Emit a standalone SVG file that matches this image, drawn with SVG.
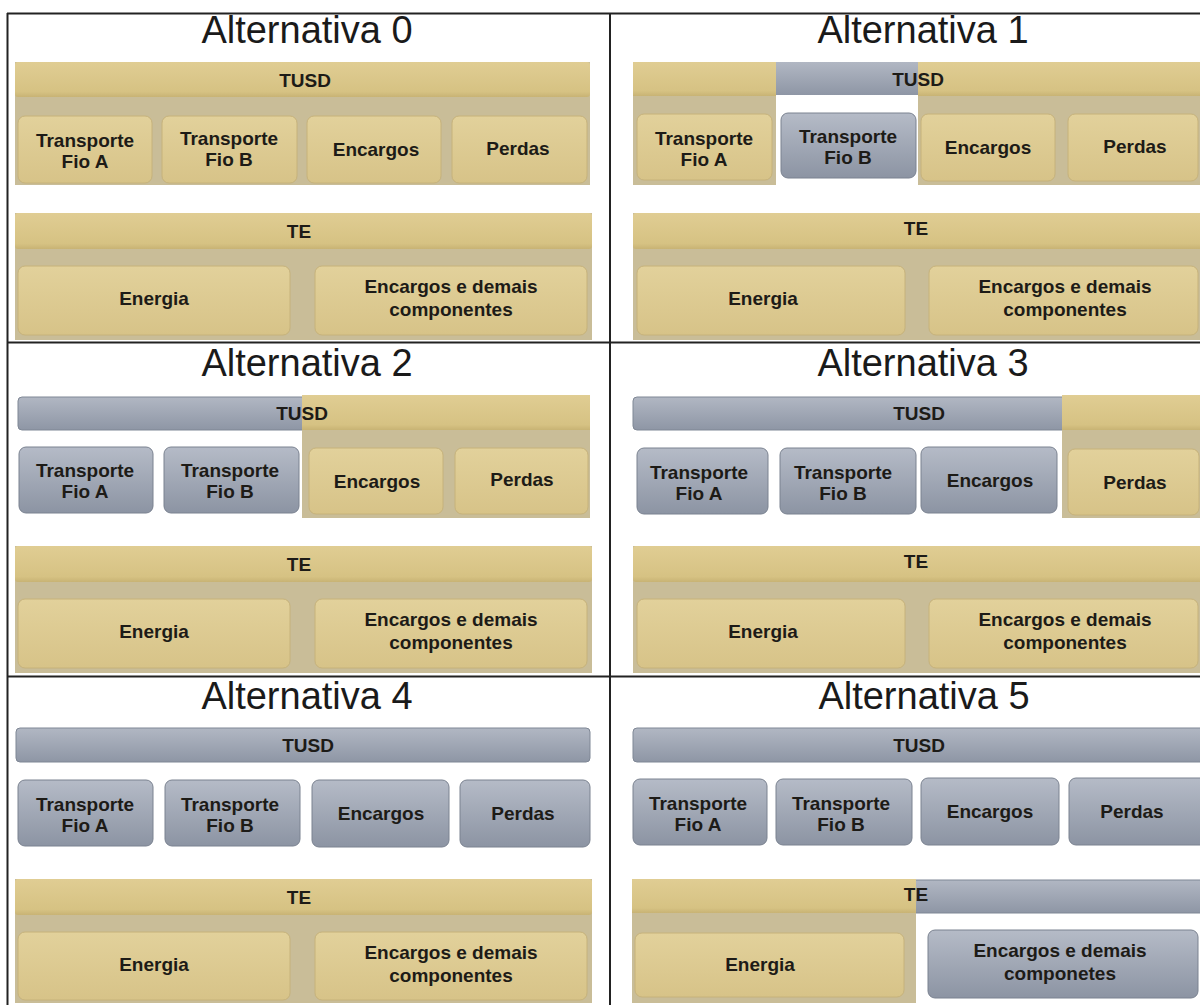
<svg xmlns="http://www.w3.org/2000/svg" width="1200" height="1005" viewBox="0 0 1200 1005">
<defs>
<linearGradient id="gBar" x1="0" y1="0" x2="0" y2="1"><stop offset="0" stop-color="#e0cd93"/><stop offset="0.85" stop-color="#d6c283"/><stop offset="1" stop-color="#c8b374"/></linearGradient>
<linearGradient id="gBox" x1="0" y1="0" x2="0" y2="1"><stop offset="0" stop-color="#e2d19b"/><stop offset="1" stop-color="#d7c388"/></linearGradient>
<linearGradient id="sBar" x1="0" y1="0" x2="0" y2="1"><stop offset="0" stop-color="#b1b7c3"/><stop offset="1" stop-color="#8e96a5"/></linearGradient>
<linearGradient id="sBox" x1="0" y1="0" x2="0" y2="1"><stop offset="0" stop-color="#b5bbc7"/><stop offset="1" stop-color="#8c94a3"/></linearGradient>
</defs>
<style>
.cont{fill:#c9bd98}
.gbar{fill:url(#gBar)}
.gbox{fill:url(#gBox);stroke:#c6b27b;stroke-width:1}
.sbar{fill:url(#sBar);stroke:#7f8795;stroke-width:1}
.sflat{fill:url(#sBar)}
.sbox{fill:url(#sBox);stroke:#7a8290;stroke-width:1}
.t{font-family:"Liberation Sans",Arial,sans-serif;font-weight:bold;font-size:19px;fill:#1d1b17;text-anchor:middle}
.ti{font-family:"Liberation Sans",Arial,sans-serif;font-size:38px;fill:#1a1a1a;text-anchor:middle}
.grid{stroke:#222;stroke-width:2;fill:none}
</style>

<!-- Panel 0 -->
<g id="alt0">
<text class="ti" x="307" y="43">Alternativa 0</text>
<g id="alt0-tusd"><rect class="cont" x="15" y="62" width="575" height="123"/><rect class="gbar" x="15" y="62" width="575" height="35" rx="3"/><text class="t" x="305" y="87">TUSD</text></g>
<g id="alt0-fioA"><rect class="gbox" x="18" y="116" width="134" height="67" rx="7"/><text class="t" x="85" y="147">Transporte</text><text class="t" x="85" y="168">Fio A</text></g>
<g id="alt0-fioB"><rect class="gbox" x="162" y="116" width="135" height="67" rx="7"/><text class="t" x="229" y="145">Transporte</text><text class="t" x="229" y="166">Fio B</text></g>
<g id="alt0-enc"><rect class="gbox" x="307" y="116" width="134" height="67" rx="7"/><text class="t" x="376" y="156">Encargos</text></g>
<g id="alt0-perdas"><rect class="gbox" x="452" y="116" width="135" height="67" rx="7"/><text class="t" x="518" y="155">Perdas</text></g>
<g id="alt0-te"><rect class="cont" x="15" y="213" width="577" height="127"/><rect class="gbar" x="15" y="213" width="577" height="36" rx="3"/><text class="t" x="299" y="238">TE</text></g>
<g id="alt0-energia"><rect class="gbox" x="18" y="266" width="272" height="69" rx="7"/><text class="t" x="154" y="305">Energia</text></g>
<g id="alt0-demais"><rect class="gbox" x="315" y="266" width="272" height="69" rx="7"/><text class="t" x="451" y="293">Encargos e demais</text><text class="t" x="451" y="316">componentes</text></g>
</g>

<!-- Panel 1 -->
<g id="alt1" transform="translate(617,0)">
<text class="ti" x="306" y="43">Alternativa 1</text>
<g id="alt1-tusd">
<rect class="cont" x="16" y="62" width="143" height="123"/><rect class="gbar" x="16" y="62" width="143" height="34"/>
<rect class="sflat" x="159" y="62" width="142" height="33"/>
<rect class="cont" x="301" y="62" width="290" height="123"/><rect class="gbar" x="301" y="62" width="290" height="34"/>
<text class="t" x="301" y="86">TUSD</text></g>
<g id="alt1-fioA"><rect class="gbox" x="20" y="114" width="135" height="66" rx="7"/><text class="t" x="87" y="145">Transporte</text><text class="t" x="87" y="166">Fio A</text></g>
<g id="alt1-fioB"><rect class="sbox" x="164" y="113" width="135" height="65" rx="7"/><text class="t" x="231" y="143">Transporte</text><text class="t" x="231" y="164">Fio B</text></g>
<g id="alt1-enc"><rect class="gbox" x="304" y="114" width="134" height="67" rx="7"/><text class="t" x="371" y="154">Encargos</text></g>
<g id="alt1-perdas"><rect class="gbox" x="451" y="114" width="130" height="67" rx="7"/><text class="t" x="518" y="153">Perdas</text></g>
<g id="alt1-te"><rect class="cont" x="16" y="213" width="580" height="127"/><rect class="gbar" x="16" y="213" width="580" height="36" rx="3"/><text class="t" x="299" y="235">TE</text></g>
<g id="alt1-energia"><rect class="gbox" x="20" y="266" width="268" height="69" rx="7"/><text class="t" x="146" y="305">Energia</text></g>
<g id="alt1-demais"><rect class="gbox" x="312" y="266" width="269" height="69" rx="7"/><text class="t" x="448" y="293">Encargos e demais</text><text class="t" x="448" y="316">componentes</text></g>
</g>

<!-- Panel 2 -->
<g id="alt2" transform="translate(0,333)">
<text class="ti" x="307" y="43">Alternativa 2</text>
<g id="alt2-tusd">
<rect class="sbar" x="18" y="64" width="290" height="33" rx="4"/>
<rect class="cont" x="302" y="62" width="288" height="123"/><rect class="gbar" x="302" y="62" width="288" height="35"/>
<text class="t" x="302" y="87">TUSD</text></g>
<g id="alt2-fioA"><rect class="sbox" x="19" y="114" width="134" height="66" rx="7"/><text class="t" x="85" y="144">Transporte</text><text class="t" x="85" y="165">Fio A</text></g>
<g id="alt2-fioB"><rect class="sbox" x="164" y="114" width="135" height="66" rx="7"/><text class="t" x="230" y="144">Transporte</text><text class="t" x="230" y="165">Fio B</text></g>
<g id="alt2-enc"><rect class="gbox" x="309" y="115" width="134" height="66" rx="7"/><text class="t" x="377" y="155">Encargos</text></g>
<g id="alt2-perdas"><rect class="gbox" x="455" y="115" width="133" height="66" rx="7"/><text class="t" x="522" y="153">Perdas</text></g>
<g id="alt2-te"><rect class="cont" x="15" y="213" width="577" height="127"/><rect class="gbar" x="15" y="213" width="577" height="36" rx="3"/><text class="t" x="299" y="238">TE</text></g>
<g id="alt2-energia"><rect class="gbox" x="18" y="266" width="272" height="69" rx="7"/><text class="t" x="154" y="305">Energia</text></g>
<g id="alt2-demais"><rect class="gbox" x="315" y="266" width="272" height="69" rx="7"/><text class="t" x="451" y="293">Encargos e demais</text><text class="t" x="451" y="316">componentes</text></g>
</g>

<!-- Panel 3 -->
<g id="alt3" transform="translate(617,333)">
<text class="ti" x="306" y="43">Alternativa 3</text>
<g id="alt3-tusd">
<rect class="sbar" x="16" y="64" width="435" height="33" rx="4"/>
<rect class="cont" x="445" y="62" width="150" height="123"/><rect class="gbar" x="445" y="62" width="150" height="35"/>
<text class="t" x="302" y="87">TUSD</text></g>
<g id="alt3-fioA"><rect class="sbox" x="20" y="115" width="131" height="66" rx="7"/><text class="t" x="82" y="146">Transporte</text><text class="t" x="82" y="167">Fio A</text></g>
<g id="alt3-fioB"><rect class="sbox" x="163" y="115" width="136" height="66" rx="7"/><text class="t" x="226" y="146">Transporte</text><text class="t" x="226" y="167">Fio B</text></g>
<g id="alt3-enc"><rect class="sbox" x="304" y="114" width="136" height="66" rx="7"/><text class="t" x="373" y="154">Encargos</text></g>
<g id="alt3-perdas"><rect class="gbox" x="451" y="116" width="131" height="66" rx="7"/><text class="t" x="518" y="156">Perdas</text></g>
<g id="alt3-te"><rect class="cont" x="16" y="213" width="580" height="127"/><rect class="gbar" x="16" y="213" width="580" height="36" rx="3"/><text class="t" x="299" y="235">TE</text></g>
<g id="alt3-energia"><rect class="gbox" x="20" y="266" width="268" height="69" rx="7"/><text class="t" x="146" y="305">Energia</text></g>
<g id="alt3-demais"><rect class="gbox" x="312" y="266" width="269" height="69" rx="7"/><text class="t" x="448" y="293">Encargos e demais</text><text class="t" x="448" y="316">componentes</text></g>
</g>

<!-- Panel 4 -->
<g id="alt4" transform="translate(0,666)">
<text class="ti" x="307" y="43">Alternativa 4</text>
<g id="alt4-tusd"><rect class="sbar" x="16" y="62" width="574" height="34" rx="4"/><text class="t" x="308" y="86">TUSD</text></g>
<g id="alt4-fioA"><rect class="sbox" x="18" y="114" width="135" height="66" rx="7"/><text class="t" x="85" y="145">Transporte</text><text class="t" x="85" y="166">Fio A</text></g>
<g id="alt4-fioB"><rect class="sbox" x="165" y="114" width="135" height="66" rx="7"/><text class="t" x="230" y="145">Transporte</text><text class="t" x="230" y="166">Fio B</text></g>
<g id="alt4-enc"><rect class="sbox" x="312" y="114" width="137" height="67" rx="7"/><text class="t" x="381" y="154">Encargos</text></g>
<g id="alt4-perdas"><rect class="sbox" x="460" y="114" width="130" height="67" rx="7"/><text class="t" x="523" y="154">Perdas</text></g>
<g id="alt4-te"><rect class="cont" x="15" y="213" width="577" height="124"/><rect class="gbar" x="15" y="213" width="577" height="36" rx="3"/><text class="t" x="299" y="238">TE</text></g>
<g id="alt4-energia"><rect class="gbox" x="18" y="266" width="272" height="68" rx="7"/><text class="t" x="154" y="305">Energia</text></g>
<g id="alt4-demais"><rect class="gbox" x="315" y="266" width="272" height="68" rx="7"/><text class="t" x="451" y="293">Encargos e demais</text><text class="t" x="451" y="316">componentes</text></g>
</g>

<!-- Panel 5 -->
<g id="alt5" transform="translate(617,666)">
<text class="ti" x="307" y="43">Alternativa 5</text>
<g id="alt5-tusd"><rect class="sbar" x="16" y="62" width="590" height="34" rx="4"/><text class="t" x="302" y="86">TUSD</text></g>
<g id="alt5-fioA"><rect class="sbox" x="16" y="113" width="134" height="66" rx="7"/><text class="t" x="81" y="144">Transporte</text><text class="t" x="81" y="165">Fio A</text></g>
<g id="alt5-fioB"><rect class="sbox" x="159" y="113" width="136" height="66" rx="7"/><text class="t" x="224" y="144">Transporte</text><text class="t" x="224" y="165">Fio B</text></g>
<g id="alt5-enc"><rect class="sbox" x="304" y="112" width="138" height="67" rx="7"/><text class="t" x="373" y="152">Encargos</text></g>
<g id="alt5-perdas"><rect class="sbox" x="452" y="112" width="140" height="67" rx="7"/><text class="t" x="515" y="152">Perdas</text></g>
<g id="alt5-te">
<rect class="sbar" x="292" y="214" width="310" height="33" rx="4"/>
<rect class="cont" x="15" y="213" width="284" height="124"/><rect class="gbar" x="15" y="213" width="284" height="34"/>
<text class="t" x="299" y="235">TE</text></g>
<g id="alt5-energia"><rect class="gbox" x="18" y="267" width="269" height="64" rx="7"/><text class="t" x="143" y="305">Energia</text></g>
<g id="alt5-demais"><rect class="sbox" x="311" y="264" width="270" height="68" rx="7"/><text class="t" x="443" y="291">Encargos e demais</text><text class="t" x="443" y="314">componetes</text></g>
</g>

<!-- Grid -->
<g id="grid">
<line class="grid" x1="7" y1="13.5" x2="1200" y2="13.5"/>
<line class="grid" x1="7" y1="342.5" x2="1200" y2="342.5"/>
<line class="grid" x1="7" y1="676.5" x2="1200" y2="676.5"/>
<line class="grid" x1="7.5" y1="13" x2="7.5" y2="1005"/>
<line class="grid" x1="610" y1="13" x2="610" y2="1005"/>
</g>
</svg>
